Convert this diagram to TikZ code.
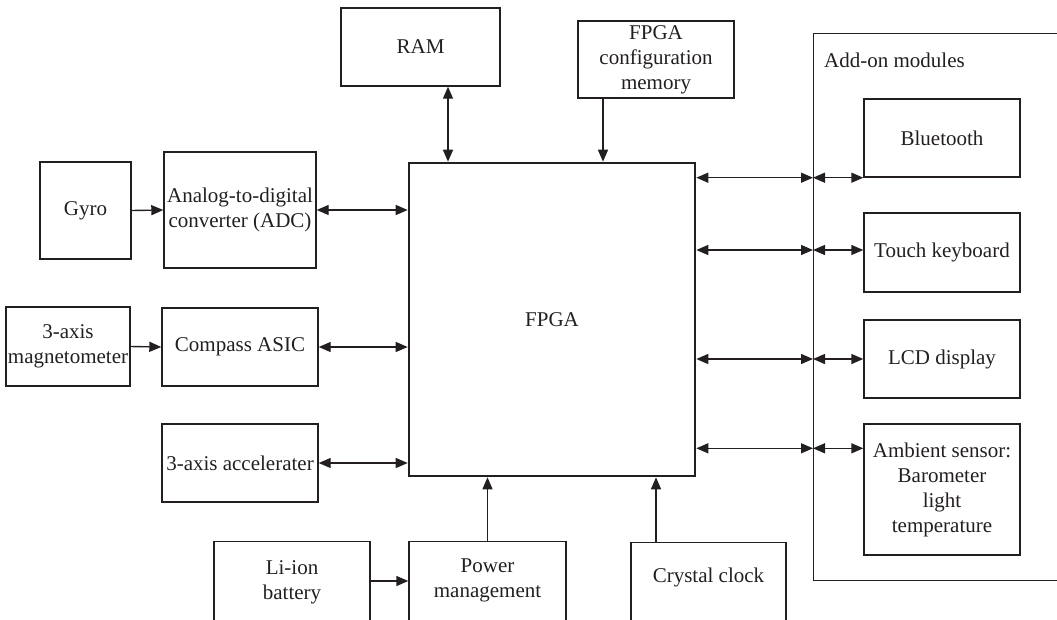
\documentclass[tikz,border=0pt]{standalone}
\usepackage{fontspec}
\setmainfont{Liberation Serif}
\usetikzlibrary{arrows.meta,calc}
\definecolor{ink}{HTML}{231F20}
\tikzset{
  txt/.style={font=\fontsize{21}{25}\selectfont, text=ink, align=center, inner sep=0pt},
  blk/.style={txt, draw=ink, line width=1.4pt, rectangle},
  openblk/.style={draw=ink, line width=1.4pt, rectangle, anchor=north, minimum height=100pt, inner sep=0pt},
  tip/.tip={Triangle[length=12pt,width=10pt]},
  uni/.style={draw=ink, line width=1.4pt, -tip},
  bidi/.style={draw=ink, line width=1.4pt, tip-tip},
}
\begin{document}
\begin{tikzpicture}[x=1pt,y=-1pt]
  \useasboundingbox (0,0) rectangle (1057,619);
  \clip (0,0) rectangle (1057,619);

  % sensor chain on the left
  \node[blk, minimum width=91pt,  minimum height=97pt] (gyro)    at (85.5,210.5) {Gyro};
  \node[blk, minimum width=152pt, minimum height=116pt] (adc)    at (240,210) {Analog-to-digital\\converter (ADC)};
  \node[blk, minimum width=124pt, minimum height=79pt] (mag)     at (68,346.5) {3-axis\\magnetometer};
  \node[blk, minimum width=156pt, minimum height=78pt] (compass) at (240,347) {Compass ASIC};
  \node[blk, minimum width=156pt, minimum height=78pt] (acc)     at (240,463) {3-axis accelerater};

  % memories above the FPGA
  \node[blk, minimum width=159pt, minimum height=78pt] (ram) at (420.5,47) {RAM};
  \node[blk, minimum width=156pt, minimum height=77pt] (cfg) at (656,59.5) {FPGA\\configuration\\memory};

  % the FPGA itself
  \node[blk, line width=2.6pt, minimum width=286pt, minimum height=313pt] (fpga) at (552,319.5) {FPGA};

  % add-on modules
  \node[draw=ink, line width=1.4pt, rectangle, anchor=north west, minimum width=260pt, minimum height=547pt, inner sep=0pt] (addon) at (813,33) {};
  \node[txt, anchor=base west] (addonlbl) at (824,67) {Add-on modules};
  \node[blk, minimum width=156pt, minimum height=78pt]  (bt)    at (942,138) {Bluetooth};
  \node[blk, minimum width=156pt, minimum height=79pt]  (touch) at (942,252.5) {Touch keyboard};
  \node[blk, minimum width=156pt, minimum height=78pt]  (lcd)   at (942,359) {LCD display};
  \node[blk, minimum width=156pt, minimum height=131pt] (amb)   at (942,489.5) {Ambient sensor:\\Barometer\\light\\temperature};

  % supply and clock along the bottom edge
  \node[openblk, minimum width=156pt] (li)  at (292,541) {};
  \node[openblk, minimum width=157pt] (pm)  at (487.5,541) {};
  \node[openblk, minimum width=155pt] (clk) at (708.5,542) {};
  \node[txt] (litxt)  at (292,582) {Li-ion\\battery};
  \node[txt] (pmtxt)  at (487.5,580) {Power\\management};
  \node[txt] (clktxt) at (708.5,577) {Crystal clock};

  % connectors on the left
  \draw[uni]  (gyro.east) -- (adc.west);
  \draw[uni]  (mag.east) -- (compass.west);
  \draw[bidi] (adc.east) -- (adc.east -| fpga.west);
  \draw[bidi] (compass.east) -- (compass.east -| fpga.west);
  \draw[bidi] (acc.east) -- (acc.east -| fpga.west);

  % connectors at the top
  \draw[bidi] ([xshift=27.5pt]ram.south) -- ([xshift=27.5pt]ram.south |- fpga.north);
  \draw[uni]  ([xshift=-53pt]cfg.south) -- ([xshift=-53pt]cfg.south |- fpga.north);

  % connectors at the bottom
  \draw[uni] (pm.north) -- (pm.north |- fpga.south);
  \draw[uni] ([xshift=-52.5pt]clk.north) -- ([xshift=-52.5pt]clk.north |- fpga.south);
  \draw[uni] ([yshift=-40pt]li.north east) -- ([yshift=-40pt]li.north east -| pm.west);

  % connectors to the add-on modules
  \draw[bidi] (bt.south west -| fpga.east) -- (bt.south west -| addon.west);
  \draw[bidi] (bt.south west -| addon.west) -- (bt.south west);
  \draw[bidi] ([yshift=2.5pt]touch.west -| fpga.east) -- ([yshift=2.5pt]touch.west -| addon.west);
  \draw[bidi] ([yshift=2.5pt]touch.west -| addon.west) -- ([yshift=2.5pt]touch.west);
  \draw[bidi] (lcd.west -| fpga.east) -- (lcd.west -| addon.west);
  \draw[bidi] (lcd.west -| addon.west) -- (lcd.west);
  \draw[bidi] ([yshift=-25pt]amb.north west -| fpga.east) -- ([yshift=-25pt]amb.north west -| addon.west);
  \draw[bidi] ([yshift=-25pt]amb.north west -| addon.west) -- ([yshift=-25pt]amb.north west);
\end{tikzpicture}
\end{document}
